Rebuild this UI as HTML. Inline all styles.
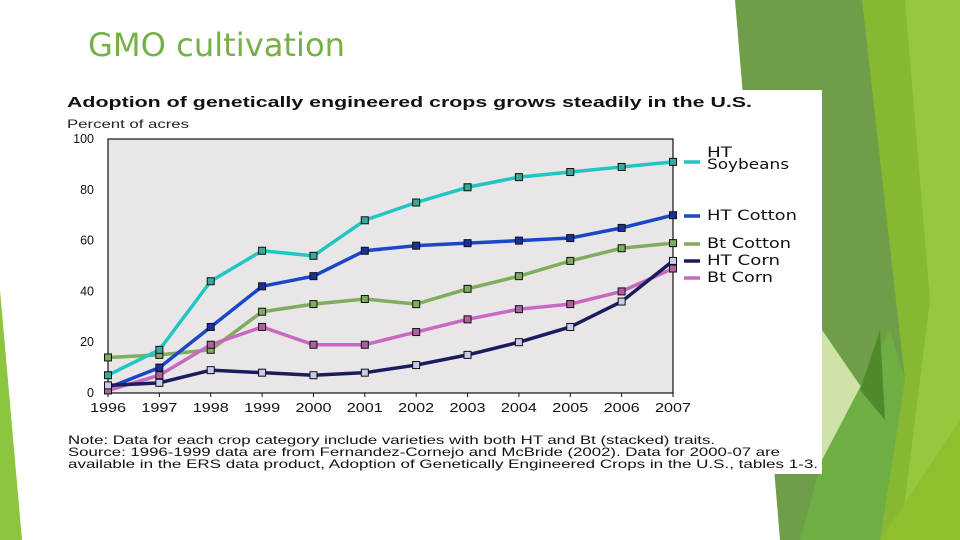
<!DOCTYPE html>
<html><head><meta charset="utf-8"><style>
body{margin:0;width:960px;height:540px;overflow:hidden;background:#fff;font-family:"Liberation Sans",sans-serif;position:relative}
svg{position:absolute;left:0;top:0}
</style></head><body>
<svg width="960" height="540">
<g>
<polygon points="0,290 22,540 0,540" fill="#8cc63f"/>
<polygon points="735,0 960,0 960,540 780,540" fill="#6f9e48"/>
<polygon points="862,0 960,0 960,540 870,540 905,380" fill="#86b832"/>
<polygon points="905,0 960,0 960,540 900,540 930,300" fill="#96c73e"/>
<polygon points="822,330 870,400 822,460" fill="#cfe3a8"/>
<polygon points="822,460 890,330 905,380 880,540 800,540" fill="#6fae44"/>
<polygon points="880,540 960,420 960,540" fill="#8fbf2e"/>
<polygon points="860,390 880,330 885,420" fill="#4e8a2a"/>
</g>
<text x="88" y="56" font-family="DejaVu Sans, sans-serif" font-size="32" textLength="257" lengthAdjust="spacingAndGlyphs" fill="#77b046">GMO cultivation</text>
<rect x="62" y="90" width="760" height="384" fill="#fff"/>
<text x="67" y="107" font-size="15" font-weight="bold" textLength="685" lengthAdjust="spacingAndGlyphs" fill="#111">Adoption of genetically engineered crops grows steadily in the U.S.</text>
<text x="67" y="128" font-size="12" textLength="122" lengthAdjust="spacingAndGlyphs" fill="#222">Percent of acres</text>
<rect x="108" y="139" width="565" height="254" fill="#e8e6e6" stroke="#111" stroke-width="1.2"/>
<g id="axes"></g><g id="series"></g><g id="legend"></g>
<text x="68" y="444" font-size="12" textLength="647" lengthAdjust="spacingAndGlyphs" fill="#111">Note: Data for each crop category include varieties with both HT and Bt (stacked) traits.</text>
<text x="68" y="456" font-size="12" textLength="712" lengthAdjust="spacingAndGlyphs" fill="#111">Source: 1996-1999 data are from Fernandez-Cornejo and McBride (2002). Data for 2000-07 are</text>
<text x="68" y="468" font-size="12" textLength="750" lengthAdjust="spacingAndGlyphs" fill="#111">available in the ERS data product, Adoption of Genetically Engineered Crops in the U.S., tables 1-3.</text>
</svg>
<script>
const years=[1996,1997,1998,1999,2000,2001,2002,2003,2004,2005,2006,2007];
const yTicks=[0,20,40,60,80,100];
const htSoy=[7,17,44,56,54,68,75,81,85,87,89,91];
const htCotton=[2,10,26,42,46,56,58,59,60,61,65,70];
const btCotton=[14,15,17,32,35,37,35,41,46,52,57,59];
const htCorn=[3,4,9,8,7,8,11,15,20,26,36,52];
const btCorn=[1,7,19,26,19,19,24,29,33,35,40,49];
const names=["HT Soybeans","HT Cotton","Bt Cotton","HT Corn","Bt Corn"];
const NS="http://www.w3.org/2000/svg";
const X=i=>108+i*(565/11), Y=v=>393-v*2.54;
function mk(t,a,p){const e=document.createElementNS(NS,t);for(const k in a)e.setAttribute(k,a[k]);p.appendChild(e);return e;}
const ax=document.getElementById('axes');
yTicks.forEach(v=>{const t=mk('text',{x:94,y:Y(v)+4,'font-size':12.5,'text-anchor':'end',fill:'#111'},ax);t.textContent=v;

});
years.forEach((y,i)=>{const t=mk('text',{x:X(i),y:412,'font-size':12.5,'text-anchor':'middle',fill:'#111',textLength:36,lengthAdjust:'spacingAndGlyphs'},ax);t.textContent=y;


mk('line',{x1:X(i),x2:X(i),y1:393,y2:397,stroke:'#111'},ax);});
const sg=document.getElementById('series');
const defs=[[btCotton,'#7fad5e','#7fad5e'],[htSoy,'#22c4c4','#3aa89a'],[htCotton,'#1a46c8','#1c2f9a'],[btCorn,'#c868c0','#b0609c'],[htCorn,'#1a1c5e','#c8cce8']];
const keys=['bt-cotton','ht-soybeans','ht-cotton','bt-corn','ht-corn'];
defs.forEach((d,k)=>{const g=mk('g',{},sg);


mk('polyline',{points:d[0].map((v,i)=>X(i)+','+Y(v)).join(' '),fill:'none',stroke:d[1],'stroke-width':3.5,'stroke-linejoin':'round'},g);
d[0].forEach((v,i)=>{const r=mk('rect',{x:X(i)-3.5,y:Y(v)-3.5,width:7,height:7,fill:d[2],stroke:'#111','stroke-width':1},g);

});});
const lg=document.getElementById('legend');
const leg=[[162,'#22c4c4',['HT','Soybeans'],[25,82],154],[216,'#1a46c8',['HT Cotton'],[90],220],[244,'#7fad5e',['Bt Cotton'],[84],248],[261,'#1a1c5e',['HT Corn'],[73],265],[278,'#c868c0',['Bt Corn'],[66],282]];
leg.forEach((l,k)=>{const g=mk('g',{},lg);


mk('line',{x1:684,x2:700,y1:l[0],y2:l[0],stroke:l[1],'stroke-width':3.5},g);
l[2].forEach((s,j)=>{const t=mk('text',{x:707,y:l[4]+j*12+(l[2].length>1?3:0),'font-size':14,fill:'#111','font-family':'DejaVu Sans, sans-serif',textLength:l[3][j],lengthAdjust:'spacingAndGlyphs'},g);t.textContent=s;});});
</script>
</body></html>
